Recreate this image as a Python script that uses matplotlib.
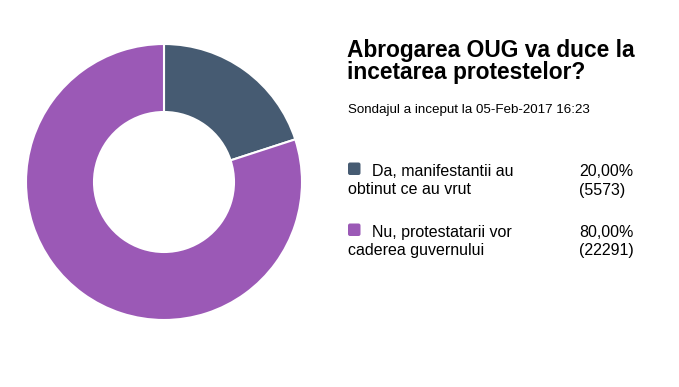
import matplotlib
matplotlib.use("Agg")
import matplotlib.pyplot as plt
from matplotlib.patches import FancyBboxPatch

# Poll data
labels = ["Da, manifestantii au\nobtinut ce au vrut",
          "Nu, protestatarii vor\ncaderea guvernului"]
counts = [5573, 22291]
colors = ["#465b72", "#9b59b6"]

title = "Abrogarea OUG va duce la\nincetarea protestelor?"
subtitle = "Sondajul a inceput la 05-Feb-2017 16:23"

plt.rcParams["font.family"] = ["Liberation Sans", "DejaVu Sans"]

W, H = 679, 387
fig = plt.figure(figsize=(W / 100, H / 100), dpi=100)

# --------- Donut ---------
cx, cy, box = 164, 182, 140
ax = fig.add_axes([(cx - box) / W, (H - cy - box) / H, 2 * box / W, 2 * box / H])
ax.pie(counts, colors=colors, startangle=90, counterclock=False,
       radius=138 / box,
       wedgeprops=dict(width=68 / box, edgecolor="white", linewidth=1.5))
ax.set_xlim(-1, 1)
ax.set_ylim(-1, 1)
ax.set_aspect("equal")
ax.axis("off")


def put(x, y, s, **kw):
    fig.text(x / W, 1 - y / H, s, va="baseline", ha="left", **kw)


# --------- Title ---------
line1, line2 = title.split("\n")
put(347, 57, line1, fontsize=16.4, fontweight="bold")
put(347, 78.5, line2, fontsize=16.4, fontweight="bold")
put(348, 113, subtitle, fontsize=9.6)

# --------- Legend ---------
total = sum(counts)
rows = [176, 237]
for lab, n, col, y in zip(labels, counts, colors, rows):
    first, second = lab.split("\n")
    sq = FancyBboxPatch((348 / 100, (H - y + 1) / 100), 0.125, 0.125,
                        boxstyle="round,pad=0,rounding_size=0.02",
                        transform=fig.dpi_scale_trans, facecolor=col,
                        edgecolor="none")
    fig.patches.append(sq)
    put(372, y, first, fontsize=11.5)
    put(348, y + 18.5, second, fontsize=11.5)
    pct = f"{n / total * 100:.2f}%".replace(".", ",")
    put(579, y, pct, fontsize=11.5)
    put(579, y + 18.5, f"({n})", fontsize=11.5)

fig.savefig("out.png", dpi=100)
